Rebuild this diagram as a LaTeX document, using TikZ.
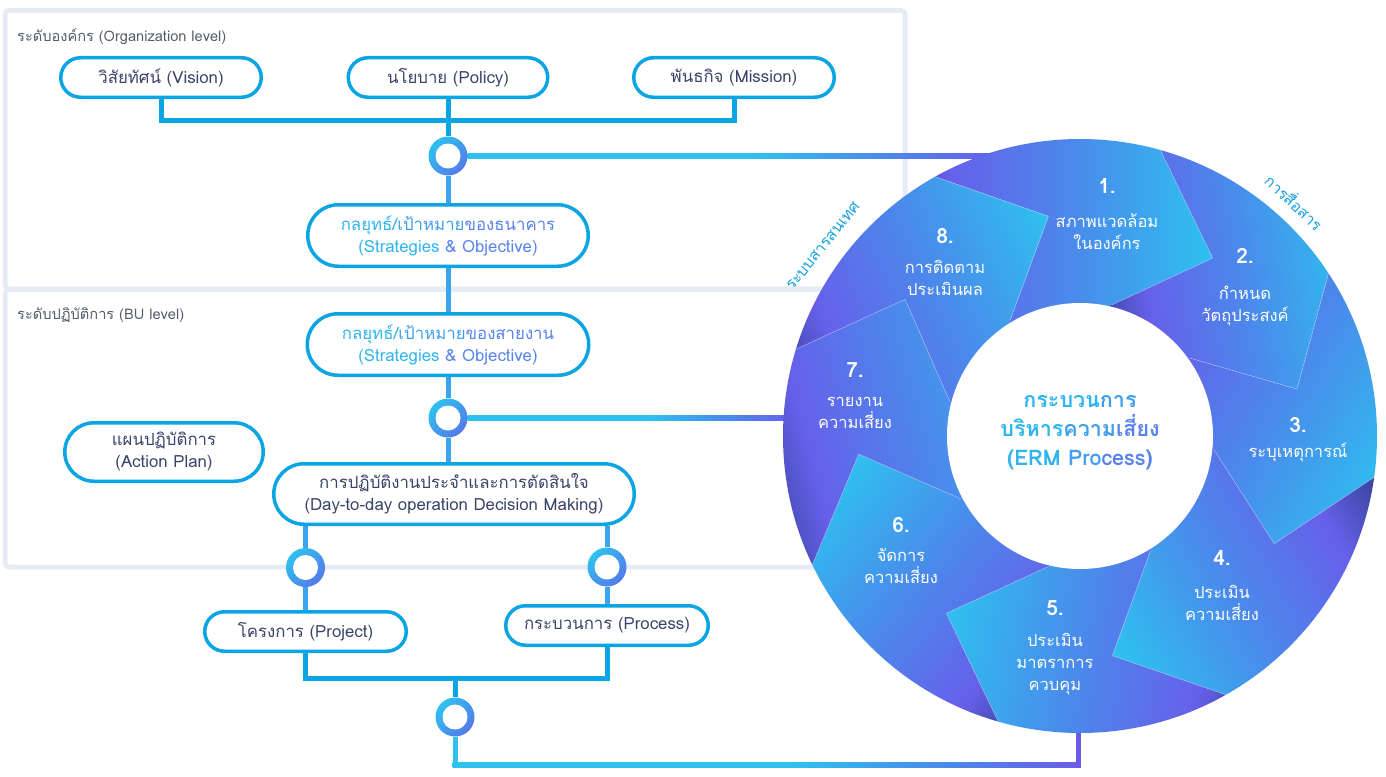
\documentclass[tikz,border=0pt]{standalone}
\usepackage{fontspec}
\setmainfont[Script=Thai]{Loma}
\usetikzlibrary{calc,shapes.misc}
\definecolor{boxc}{HTML}{0AA5E2}
\definecolor{jlc}{HTML}{3AA4EE}
\definecolor{txtc}{HTML}{3A4468}
\definecolor{framec}{HTML}{E6ECF5}
\definecolor{labc}{HTML}{565C68}
\definecolor{gcyan}{HTML}{2EC1EF}
\definecolor{gblue}{HTML}{4A8AEB}
\definecolor{gviolet}{HTML}{6660EA}
\definecolor{gdark}{HTML}{2C3D88}
\definecolor{lviolet}{HTML}{6B5BE9}
\definecolor{arcc}{HTML}{16A2DF}
\definecolor{tA}{HTML}{30B4EE}
\definecolor{tB}{HTML}{409FEE}
\definecolor{tC}{HTML}{5883EE}
\pgfdeclarelayer{back}
\pgfdeclarelayer{bg}
\pgfsetlayers{back,bg,main}
\pgfdeclarehorizontalshading{segshade}{100bp}{color(0bp)=(gdark); color(25bp)=(gdark); color(37bp)=(gviolet); color(55bp)=(gblue); color(75bp)=(gcyan); color(100bp)=(gcyan)}
\pgfdeclarehorizontalshading{lineshade}{100bp}{color(0bp)=(gcyan); color(25bp)=(gcyan); color(52bp)=(gcyan); color(64bp)=(gblue); color(75bp)=(lviolet); color(100bp)=(lviolet)}
\tikzset{
  pill/.style={rounded rectangle, draw=boxc, line width=3.5pt, fill=white, inner sep=0pt, align=center, font=\fontsize{16.8}{22}\selectfont, text=txtc},
  jn/.style={circle, minimum size=39pt, inner sep=0pt, left color=gcyan, right color=gblue!60!gviolet, shading angle=45, path picture={\fill[white] (path picture bounding box.center) circle[radius=12.5pt];}},
  bar/.style={draw=boxc, line width=5pt},
  jline/.style={draw=jlc, line width=5pt},
  frame/.style={draw=framec, line width=5pt, rounded corners=4pt},
  lvl/.style={anchor=west, text=labc, font=\fontsize{14.6}{17}\selectfont, inner sep=0pt},
  num/.style={text=white, font=\bfseries\fontsize{21}{24}\selectfont, inner sep=0pt},
  seglab/.style={text=white, align=center, font=\fontsize{16.5}{22}\selectfont, inner sep=0pt},
  arclab/.style={text=arcc, font=\fontsize{15.5}{19}\selectfont, inner sep=0pt},
  erm/.style={font=\bfseries\fontsize{21.5}{29}\selectfont, align=center, inner sep=0pt}
}
\begin{document}
\begin{tikzpicture}[x=1pt,y=-1pt]
\useasboundingbox (0,0) rectangle (1386,776);
\coordinate (C) at (1080,436);
\begin{pgfonlayer}{back}
\draw[frame] (5,10.5) rectangle (905,289);
\draw[frame] (5,289) rectangle (905,567);
\end{pgfonlayer}
\node[lvl] (orglab) at (17,37) {ระดับองค์กร (Organization level)};
\node[lvl] (bulab) at (17,315) {ระดับปฏิบัติการ (BU level)};
\node[pill, minimum width=200.5pt, minimum height=39.5pt] (vision) at (161,77.5) {วิสัยทัศน์ (Vision)};
\node[pill, minimum width=199.5pt, minimum height=39.5pt] (policy) at (448,77.5) {นโยบาย (Policy)};
\node[pill, minimum width=200.5pt, minimum height=39.5pt] (mission) at (734,77.5) {พันธกิจ (Mission)};
\node[jn] (j1) at (448,156) {};
\node[pill, minimum width=280.5pt, minimum height=61.5pt] (sbank) at (448,235.5) {\textcolor{tA}{กลยุทธ์/}\textcolor{tB}{เป้าหมาย}\textcolor{tC}{ของธนาคาร}\\\textcolor{tA}{(Strategies }\textcolor{tC}{\& Objective)}};
\node[pill, minimum width=281.5pt, minimum height=61.5pt] (sbu) at (448,344.5) {\textcolor{tA}{กลยุทธ์/}\textcolor{tB}{เป้าหมาย}\textcolor{tC}{ของสายงาน}\\\textcolor{tA}{(Strategies }\textcolor{tC}{\& Objective)}};
\node[jn] (j2) at (448,418) {};
\node[pill, minimum width=198.5pt, minimum height=58.5pt] (plan) at (164,452) {แผนปฏิบัติการ\\(Action Plan)};
\node[pill, minimum width=360.5pt, minimum height=60.5pt] (day) at (454,494) {การปฏิบัติงานประจำและการตัดสินใจ\\(Day-to-day operation Decision Making)};
\node[jn] (j3a) at (305.5,567.5) {};
\node[jn] (j3b) at (607,567) {};
\node[pill, minimum width=201.5pt, minimum height=39.5pt] (project) at (305.5,631.5) {โครงการ (Project)};
\node[pill, minimum width=202.5pt, minimum height=39.5pt] (process) at (607,625.5) {กระบวนการ (Process)};
\node[jn] (j4) at (455,717) {};
\coordinate (bar1) at (448,120.5);
\coordinate (bar2) at (455,678);
\coordinate (ringtop) at (1000,156);
\coordinate (ringleft) at (800,418);
\coordinate (bl) at (455,765);
\coordinate (br) at (1078,765);
\coordinate (ringbot) at (1078,720);
\begin{pgfonlayer}{bg}
\draw[bar] (vision.south) |- (bar1) -| (mission.south);
\draw[bar] (policy.south) -- (j1);
\draw[jline] (j1) -- (sbank.north);
\draw[jline] (sbank.south) -- (sbu.north);
\draw[jline] (sbu.south) -- (j2);
\draw[jline] (j2) -- (j2 |- day.north);
\draw[jline] (day.south -| j3a) -- (j3a);
\draw[jline] (day.south -| j3b) -- (j3b);
\draw[jline] (j3a) -- (project.north);
\draw[jline] (j3b) -- (process.north);
\draw[bar] (project.south) |- (bar2) -| (process.south);
\draw[bar] (bar2) -- (j4);
\shade[shading=lineshade] ($(j1.east)+(0,-2.5)$) rectangle ($(ringtop)+(0,2.5)$);
\shade[shading=lineshade] ($(j2.east)+(0,-2.5)$) rectangle ($(ringleft)+(0,2.5)$);
\draw[line width=5pt, gcyan] (j4) -- ($(bl)+(0,2.5)$);
\shade[shading=lineshade] ($(bl)+(-2.5,-2.5)$) rectangle ($(br)+(2.5,2.5)$);
\draw[line width=5pt, lviolet] ($(br)+(0,2.5)$) -- (ringbot);
\end{pgfonlayer}
% ring geometry
\foreach \k/\t in {1/53.3, 2/12.2, 3/-29, 4/-81.6, 5/-127, 6/-175.3, 7/142, 8/98.2} {
  \coordinate (P\k) at ($(C)+(\t:222pt)$);
  \coordinate (O\k) at ($(C)+(\t+21:297pt)$);
  \coordinate (I\k) at ($(C)+(\t+23:135pt)$);
  \coordinate (OX\k) at ($(P\k)!1.6!(O\k)$);
  \coordinate (IX\k) at ($(P\k)!1.25!(I\k)$);
}
\begin{scope}
\clip (C) circle[radius=297pt];
\foreach \k/\j/\d in {1/8/0, 2/1/10, 3/2/-30, 4/3/210, 5/4/170, 6/5/140, 7/6/15, 8/7/25}
  \shade[shading=segshade, shading angle=\d] (C) -- (IX\k) -- (P\k) -- (OX\k) -- (OX\j) -- (P\j) -- (IX\j) -- cycle;
\foreach \k in {1,...,8}
  \draw[white, opacity=0.3, line width=0.7pt] (O\k) -- (P\k) -- (I\k);
\end{scope}
\fill[white] (C) circle[radius=133pt];
% ring labels
\node[num] (n1) at (1107,186) {1.};
\node[seglab] (s1) at (1107,231.5) {สภาพแวดล้อม\\ในองค์กร};
\node[num] (n2) at (1245,256) {2.};
\node[seglab] (s2) at (1245,305.5) {กำหนด\\วัตถุประสงค์};
\node[num] (n3) at (1298,425) {3.};
\node[seglab] (s3) at (1298,452) {ระบุเหตุการณ์};
\node[num] (n4) at (1222,558) {4.};
\node[seglab] (s4) at (1222,603) {ประเมิน\\ความเสี่ยง};
\node[num] (n5) at (1055,608) {5.};
\node[seglab] (s5) at (1055,664) {ประเมิน\\มาตราการ\\ควบคุม};
\node[num] (n6) at (901,525) {6.};
\node[seglab] (s6) at (901,566) {จัดการ\\ความเสี่ยง};
\node[num] (n7) at (855,370) {7.};
\node[seglab] (s7) at (855,413) {รายงาน\\ความเสี่ยง};
\node[num] (n8) at (945,236) {8.};
\node[seglab] (s8) at (945,278) {การติดตาม\\ประเมินผล};
\node[erm] (ermtext) at (1080,433) {\textcolor{tA}{กระบวน}\textcolor{tB}{การ}\\\textcolor{tA}{บริหาร}\textcolor{tB}{ความ}\textcolor{tC}{เสี่ยง}\\\textcolor{tA}{(ERM }\textcolor{tB}{Pro}\textcolor{tC}{cess)}};
\node[arclab, rotate=51] (info) at (823,246) {ระบบสารสนเทศ};
\node[arclab, rotate=-43] (comm) at (1295,201.5) {การสื่อสาร};
\end{tikzpicture}
\end{document}
